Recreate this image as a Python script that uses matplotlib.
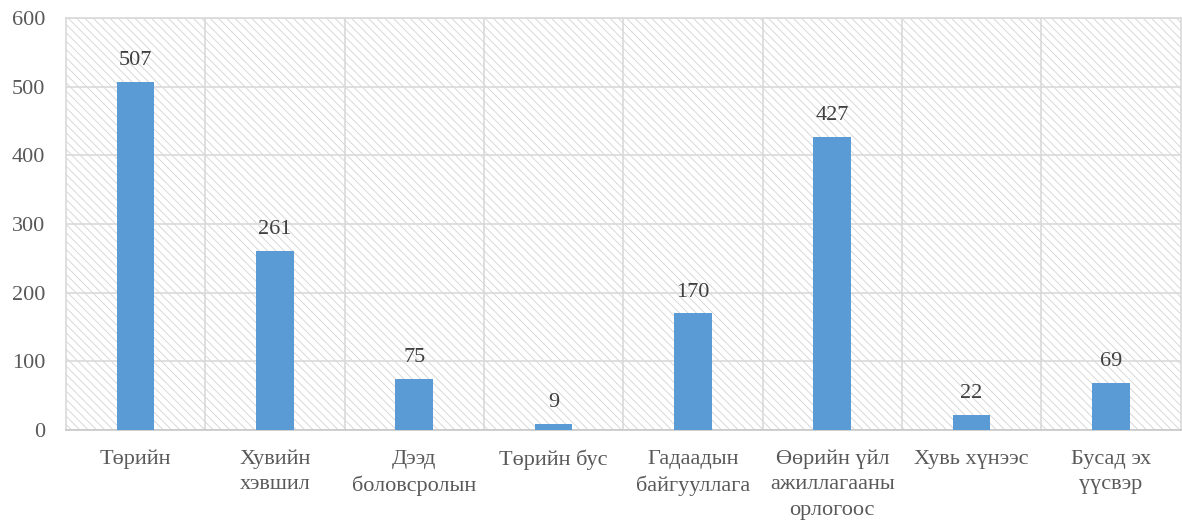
import matplotlib.pyplot as plt
from matplotlib.patches import Rectangle

categories = ["Төрийн", "Хувийн\nхэвшил", "Дээд\nболовсролын", "Төрийн бус",
              "Гадаадын\nбайгууллага", "Өөрийн үйл\nажиллагааны\nорлогоос",
              "Хувь хүнээс", "Бусад эх\nүүсвэр"]
values = [507, 261, 75, 9, 170, 427, 22, 69]
yticks = [0, 100, 200, 300, 400, 500, 600]

txt = "#595959"
fs = 16
plt.rcParams['font.family'] = ['Liberation Serif', 'DejaVu Serif']
plt.rcParams['hatch.linewidth'] = 0.6

fig = plt.figure(figsize=(11.82, 5.24), dpi=100)
ax = fig.add_axes([0.0558, 0.179, 0.943, 0.787])

# hatched background of the plot area
ax.add_patch(Rectangle((0, 0), 1, 1, transform=ax.transAxes, facecolor="white",
                       edgecolor="#d2d2d2", hatch="\\\\\\\\", lw=0, zorder=0))

x = range(len(values))
ax.bar(x, values, width=0.27, color="#5B9BD5", zorder=3)
for i, v in zip(x, values):
    ax.text(i, v + 17, str(v), ha="center", va="bottom", fontsize=fs, color="#404040", zorder=4)

ax.set_xlim(-0.5, len(values) - 0.5)
ax.set_ylim(0, 600)
ax.set_yticks(yticks)
ax.set_yticklabels([str(t) for t in yticks], fontsize=fs, color=txt)
ax.set_xticks(x)
ax.set_xticklabels(categories, fontsize=fs, color=txt, linespacing=1.45)
ax.set_xticks([i + 0.5 for i in range(len(values) - 1)], minor=True)

ax.grid(axis="y", color="#d9d9d9", lw=1.2, zorder=1)
ax.grid(axis="x", which="minor", color="#d9d9d9", lw=1.2, zorder=1)
ax.tick_params(axis="both", which="both", length=0)
ax.tick_params(axis="x", pad=14)
ax.tick_params(axis="y", pad=15)
for s in ax.spines.values():
    s.set_color("#d9d9d9")
    s.set_linewidth(1.2)
ax.spines["bottom"].set_color("#c8c8c8")

fig.savefig("out.png", dpi=100)
